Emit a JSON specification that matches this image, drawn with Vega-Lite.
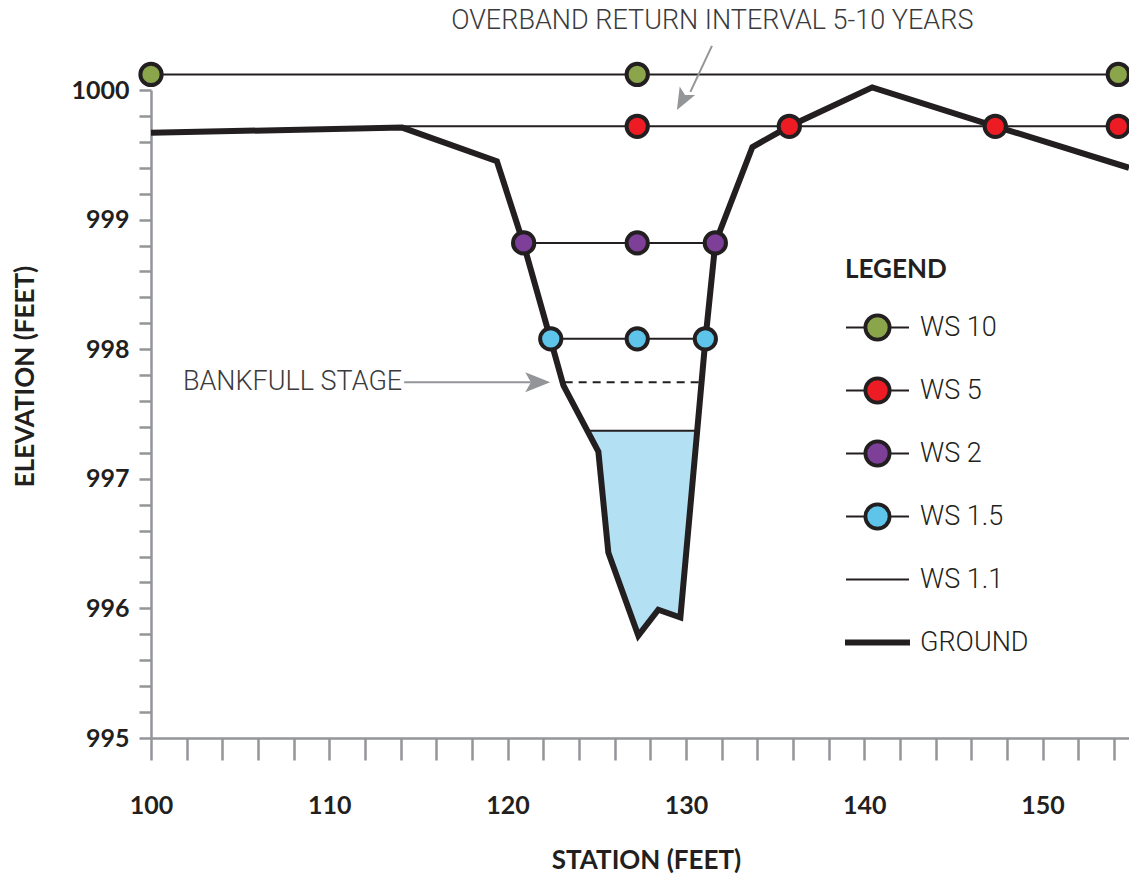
{
  "$schema": "https://vega.github.io/schema/vega-lite/v6.json",
  "width": 978,
  "height": 648,
  "autosize": {"type": "none"},
  "padding": {"left": 151, "top": 90, "right": 0, "bottom": 135},
  "background": "white",
  "config": {
    "view": {"stroke": null},
    "axis": {
      "domainColor": "#939598",
      "domainWidth": 2.5,
      "tickColor": "#939598",
      "tickWidth": 2.5,
      "grid": false,
      "labelFont": "Lato",
      "labelFontSize": 25,
      "labelFontWeight": "bold",
      "labelColor": "#231f20",
      "titleFont": "Lato",
      "titleFontSize": 26,
      "titleFontWeight": "bold",
      "titleColor": "#231f20",
      "labelOverlap": false,
      "labelFlush": false
    },
    "legend": {
      "orient": "none",
      "legendX": 694,
      "legendY": 167,
      "direction": "vertical",
      "titleFont": "Lato",
      "titleFontSize": 26,
      "titleFontWeight": "bold",
      "titleColor": "#231f20",
      "titlePadding": 13,
      "labelFont": "Roboto",
      "labelFontWeight": 300,
      "labelFontSize": 27,
      "labelColor": "#231f20",
      "labelOffset": 10,
      "symbolSize": 3969,
      "symbolStrokeWidth": 2,
      "symbolStrokeColor": "#231f20",
      "symbolFillColor": "transparent",
      "symbolOpacity": 1,
      "clipHeight": 63,
      "rowPadding": 0,
      "gridAlign": "all"
    }
  },
  "datasets": {
    "water": [
      {"x": 124.47, "bottom": 997.37, "top": 997.37},
      {"x": 125.09, "bottom": 997.21, "top": 997.37},
      {"x": 125.65, "bottom": 996.43, "top": 997.37},
      {"x": 127.33, "bottom": 995.79, "top": 997.37},
      {"x": 128.45, "bottom": 995.99, "top": 997.37},
      {"x": 129.69, "bottom": 995.93, "top": 997.37},
      {"x": 130.63, "bottom": 997.37, "top": 997.37}
    ],
    "levels": [
      {"series": "WS 10", "x": 100, "x2": 154.85, "y": 1000.12},
      {"series": "WS 5", "x": 114.09, "x2": 154.85, "y": 999.72},
      {"series": "WS 2", "x": 120.9, "x2": 131.65, "y": 998.82},
      {"series": "WS 1.5", "x": 122.42, "x2": 131.09, "y": 998.08},
      {"series": "WS 1.1", "x": 124.47, "x2": 130.63, "y": 997.37}
    ],
    "bankfull": [
      {"label": "BANKFULL STAGE", "x": 123.2, "x2": 130.8, "y": 997.745}
    ],
    "ground": [
      {"i": 1, "x": 100, "y": 999.67},
      {"i": 2, "x": 114.09, "y": 999.71},
      {"i": 3, "x": 119.4, "y": 999.45},
      {"i": 4, "x": 120.9, "y": 998.81},
      {"i": 5, "x": 122.42, "y": 998.07},
      {"i": 6, "x": 123.13, "y": 997.72},
      {"i": 7, "x": 125.09, "y": 997.21},
      {"i": 8, "x": 125.65, "y": 996.43},
      {"i": 9, "x": 127.33, "y": 995.79},
      {"i": 10, "x": 128.45, "y": 995.99},
      {"i": 11, "x": 129.69, "y": 995.93},
      {"i": 12, "x": 131.09, "y": 998.07},
      {"i": 13, "x": 131.65, "y": 998.82},
      {"i": 14, "x": 133.73, "y": 999.56},
      {"i": 15, "x": 135.8, "y": 999.72},
      {"i": 16, "x": 140.45, "y": 1000.02},
      {"i": 17, "x": 147.35, "y": 999.72},
      {"i": 18, "x": 154.85, "y": 999.4}
    ],
    "points": [
      {"series": "WS 10", "x": 100, "y": 1000.12},
      {"series": "WS 10", "x": 127.27, "y": 1000.12},
      {"series": "WS 10", "x": 154.25, "y": 1000.12},
      {"series": "WS 5", "x": 127.27, "y": 999.72},
      {"series": "WS 5", "x": 135.8, "y": 999.72},
      {"series": "WS 5", "x": 147.35, "y": 999.72},
      {"series": "WS 5", "x": 154.25, "y": 999.72},
      {"series": "WS 2", "x": 120.9, "y": 998.82},
      {"series": "WS 2", "x": 127.27, "y": 998.82},
      {"series": "WS 2", "x": 131.65, "y": 998.82},
      {"series": "WS 1.5", "x": 122.42, "y": 998.08},
      {"series": "WS 1.5", "x": 127.27, "y": 998.08},
      {"series": "WS 1.5", "x": 131.09, "y": 998.08}
    ],
    "overband": [
      {"label": "OVERBAND RETURN INTERVAL 5-10 YEARS", "tx": 131.48, "ty": 1000.53, "x": 131.46, "y": 1000.34, "x2": 130.25, "y2": 999.985, "hx": 129.79, "hy": 999.92}
    ],
    "bankarrow": [
      {"label": "BANKFULL STAGE", "tx": 114.09, "ty": 997.745, "x": 114.2, "x2": 121.3, "y": 997.745, "hx": 121.69, "hy": 997.745}
    ],
    "legendonly": []
  },
  "encoding": {
    "x": {
      "type": "quantitative",
      "scale": {"domain": [100, 154.85], "nice": false, "zero": false},
      "axis": {
        "orient": "bottom",
        "title": "STATION (FEET)",
        "values": [100,102,104,106,108,110,112,114,116,118,120,122,124,126,128,130,132,134,136,138,140,142,144,146,148,150,152,154],
        "labelExpr": "datum.value % 10 === 0 ? format(datum.value, 'd') : ''",
        "tickSize": 22,
        "labelPadding": 33,
        "titleY": 122,
        "titleX": 495,
        "titleBaseline": "middle"
      }
    },
    "y": {
      "type": "quantitative",
      "scale": {"domain": [995, 1000], "nice": false, "zero": false},
      "axis": {
        "orient": "left",
        "title": "ELEVATION (FEET)",
        "values": [995,995.2,995.4,995.6,995.8,996,996.2,996.4,996.6,996.8,997,997.2,997.4,997.6,997.8,998,998.2,998.4,998.6,998.8,999,999.2,999.4,999.6,999.8,1000],
        "labelExpr": "abs(datum.value - round(datum.value)) < 0.01 ? format(datum.value, 'd') : ''",
        "tickSize": 12,
        "labelPadding": 10,
        "titleAngle": -90,
        "titleX": -126,
        "titleY": 286,
        "titleAlign": "center",
        "titleBaseline": "middle"
      }
    }
  },
  "layer": [
    {
      "data": {"name": "water"},
      "mark": {"type": "area", "color": "#b3e0f2", "opacity": 1},
      "encoding": {
        "x": {"field": "x"},
        "y": {"field": "bottom"},
        "y2": {"field": "top"}
      }
    },
    {
      "data": {"name": "levels"},
      "mark": {"type": "rule", "color": "#231f20", "strokeWidth": 2},
      "encoding": {
        "x": {"field": "x"},
        "x2": {"field": "x2"},
        "y": {"field": "y"}
      }
    },
    {
      "data": {"name": "bankfull"},
      "mark": {"type": "rule", "color": "#231f20", "strokeWidth": 2, "strokeDash": [8, 6]},
      "encoding": {
        "x": {"field": "x"},
        "x2": {"field": "x2"},
        "y": {"field": "y"}
      }
    },
    {
      "data": {"name": "ground"},
      "mark": {"type": "line", "color": "#231f20", "strokeWidth": 6, "strokeJoin": "miter", "strokeCap": "butt"},
      "encoding": {
        "x": {"field": "x"},
        "y": {"field": "y"},
        "order": {"field": "i", "type": "quantitative"}
      }
    },
    {
      "data": {"name": "overband"},
      "mark": {"type": "rule", "color": "#939598", "strokeWidth": 2},
      "encoding": {
        "x": {"field": "x"},
        "y": {"field": "y"},
        "x2": {"field": "x2"},
        "y2": {"field": "y2"}
      }
    },
    {
      "data": {"name": "overband"},
      "mark": {"type": "point", "shape": "M1,0L-1,-0.8L-0.55,0L-1,0.8Z", "filled": true, "color": "#939598", "opacity": 1, "size": 484, "angle": 118.5},
      "encoding": {
        "x": {"field": "hx"},
        "y": {"field": "hy"}
      }
    },
    {
      "data": {"name": "overband"},
      "mark": {"type": "text", "font": "Roboto", "fontWeight": 300, "fontSize": 27, "letterSpacing": 0.8, "color": "#3a3a3c", "align": "center", "baseline": "middle"},
      "encoding": {
        "x": {"field": "tx"},
        "y": {"field": "ty"},
        "text": {"field": "label"}
      }
    },
    {
      "data": {"name": "bankarrow"},
      "mark": {"type": "rule", "color": "#939598", "strokeWidth": 2},
      "encoding": {
        "x": {"field": "x"},
        "x2": {"field": "x2"},
        "y": {"field": "y"}
      }
    },
    {
      "data": {"name": "bankarrow"},
      "mark": {"type": "point", "shape": "M1,0L-1,-0.8L-0.55,0L-1,0.8Z", "filled": true, "color": "#939598", "opacity": 1, "size": 625},
      "encoding": {
        "x": {"field": "hx"},
        "y": {"field": "hy"}
      }
    },
    {
      "data": {"name": "bankarrow"},
      "mark": {"type": "text", "font": "Roboto", "fontWeight": 300, "fontSize": 27, "letterSpacing": 0.8, "color": "#3a3a3c", "align": "right", "baseline": "middle"},
      "encoding": {
        "x": {"field": "tx"},
        "y": {"field": "ty"},
        "text": {"field": "label"}
      }
    },
    {
      "data": {"name": "points"},
      "mark": {"type": "circle", "size": 452, "stroke": "#231f20", "strokeWidth": 4, "opacity": 1},
      "encoding": {
        "x": {"field": "x"},
        "y": {"field": "y"},
        "color": {
          "field": "series",
          "type": "nominal",
          "scale": {
            "domain": ["WS 10", "WS 5", "WS 2", "WS 1.5"],
            "range": ["#8ba54b", "#ed1c24", "#7d3f98", "#5ec4ea"]
          },
          "legend": null
        }
      }
    },
    {
      "data": {"name": "legendonly"},
      "mark": {"type": "point", "filled": false, "color": "#231f20", "strokeWidth": 2, "opacity": 1},
      "encoding": {
        "x": {"field": "x"},
        "y": {"field": "y"},
        "fill": {
          "field": "series",
          "type": "nominal",
          "title": "LEGEND",
          "scale": {
            "domain": ["WS 10", "WS 5", "WS 2", "WS 1.5", "WS 1.1", "GROUND"],
            "range": ["#8ba54b", "#ed1c24", "#7d3f98", "#5ec4ea", "transparent", "#231f20"]
          }
        },
        "shape": {
          "field": "series",
          "type": "nominal",
          "title": "LEGEND",
          "scale": {
            "domain": ["WS 10", "WS 5", "WS 2", "WS 1.5", "WS 1.1", "GROUND"],
            "range": [
              "M-1,0H-0.413M0.413,0H1M-0.413,0A0.413,0.413,0,1,1,0.413,0A0.413,0.413,0,1,1,-0.413,0ZM-0.356,0A0.356,0.356,0,1,1,0.356,0A0.356,0.356,0,1,1,-0.356,0Z",
              "M-1,0H-0.413M0.413,0H1M-0.413,0A0.413,0.413,0,1,1,0.413,0A0.413,0.413,0,1,1,-0.413,0ZM-0.356,0A0.356,0.356,0,1,1,0.356,0A0.356,0.356,0,1,1,-0.356,0Z",
              "M-1,0H-0.413M0.413,0H1M-0.413,0A0.413,0.413,0,1,1,0.413,0A0.413,0.413,0,1,1,-0.413,0ZM-0.356,0A0.356,0.356,0,1,1,0.356,0A0.356,0.356,0,1,1,-0.356,0Z",
              "M-1,0H-0.413M0.413,0H1M-0.413,0A0.413,0.413,0,1,1,0.413,0A0.413,0.413,0,1,1,-0.413,0ZM-0.356,0A0.356,0.356,0,1,1,0.356,0A0.356,0.356,0,1,1,-0.356,0Z",
              "M-1,0H1",
              "M-1,-0.063H1V0.063H-1Z"
            ]
          }
        }
      }
    }
  ]
}
